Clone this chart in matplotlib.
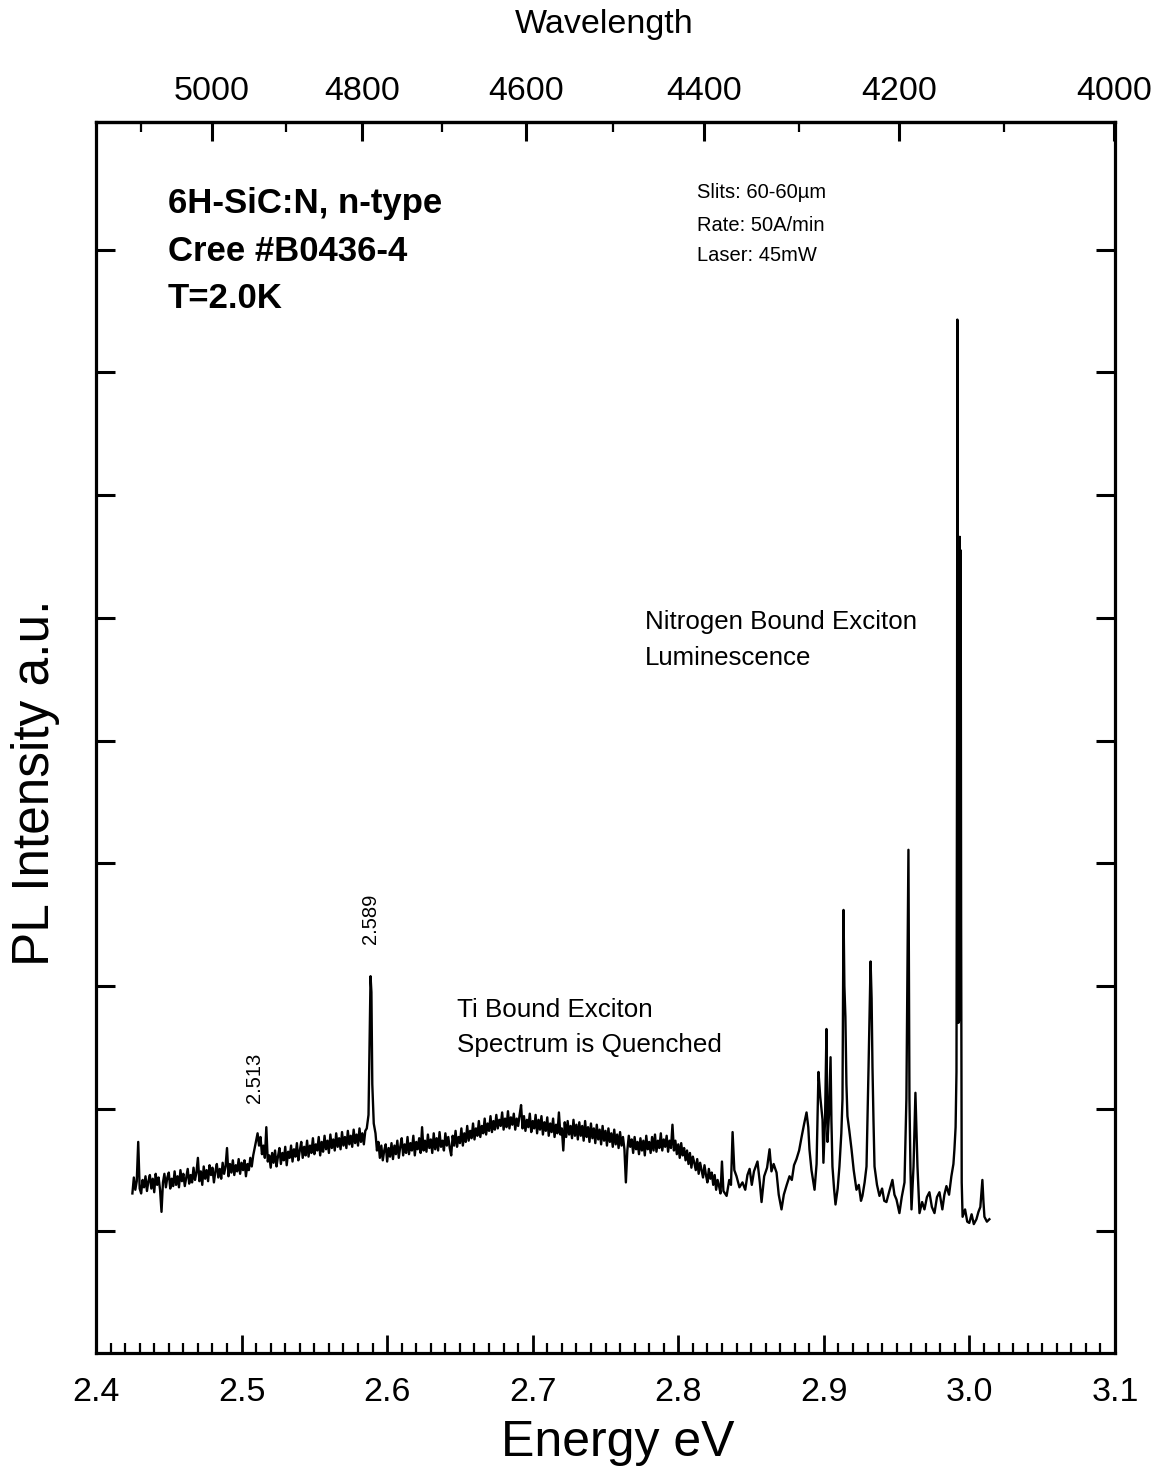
import matplotlib
matplotlib.use("Agg")
import matplotlib.pyplot as plt
from matplotlib.ticker import FixedLocator, NullFormatter

# PL spectrum: photon energy (eV) and intensity (a.u., 1 unit = 1 left tick)
# low-energy noisy background with the 2.513 feature
e_low = [
    2.425, 2.426, 2.427, 2.428, 2.429, 2.430, 2.431, 2.432, 2.433, 2.434,
    2.435, 2.436, 2.437, 2.438, 2.439, 2.440, 2.441, 2.442, 2.443, 2.444,
    2.445, 2.446, 2.447, 2.448, 2.449, 2.450, 2.451, 2.452, 2.453, 2.454,
    2.455, 2.456, 2.457, 2.458, 2.459, 2.460, 2.461, 2.462, 2.463, 2.464,
    2.465, 2.466, 2.467, 2.468, 2.469, 2.470, 2.471, 2.472, 2.473, 2.474,
    2.475, 2.476, 2.477, 2.478, 2.479, 2.480, 2.481, 2.482, 2.483, 2.484,
    2.485, 2.486, 2.487, 2.488, 2.489, 2.490, 2.491, 2.492, 2.493, 2.494,
    2.495, 2.496, 2.497, 2.498, 2.499, 2.500, 2.501, 2.502, 2.503, 2.504,
    2.505, 2.506, 2.507, 2.508, 2.509, 2.510, 2.511, 2.512, 2.513, 2.514,
    2.515, 2.516, 2.517, 2.518, 2.519, 2.520, 2.521, 2.522, 2.523, 2.524,
    2.525, 2.526, 2.527, 2.528, 2.529, 2.530, 2.531, 2.532, 2.533, 2.534,
    2.535, 2.536, 2.537, 2.538, 2.539, 2.540, 2.541, 2.542, 2.543, 2.544,
    2.545, 2.546, 2.547, 2.548, 2.549, 2.550, 2.551, 2.552, 2.553, 2.554,
    2.555, 2.556, 2.557, 2.558, 2.559, 2.560, 2.561, 2.562, 2.563, 2.564,
    2.565, 2.566, 2.567, 2.568, 2.569, 2.570, 2.571, 2.572, 2.573, 2.574,
    2.575, 2.576, 2.577, 2.578, 2.579, 2.580, 2.581, 2.582, 2.583, 2.584,
    2.585,
]
i_low = [
    0.31, 0.44, 0.34, 0.41, 0.73, 0.35, 0.31, 0.42, 0.36, 0.45,
    0.33, 0.41, 0.46, 0.35, 0.43, 0.32, 0.47, 0.38, 0.44, 0.34,
    0.16, 0.40, 0.47, 0.36, 0.44, 0.48, 0.35, 0.43, 0.37, 0.49,
    0.38, 0.45, 0.36, 0.50, 0.41, 0.47, 0.37, 0.44, 0.51, 0.39,
    0.46, 0.40, 0.52, 0.42, 0.48, 0.60, 0.41, 0.49, 0.38, 0.53,
    0.43, 0.50, 0.41, 0.54, 0.46, 0.52, 0.40, 0.49, 0.55, 0.44,
    0.51, 0.43, 0.56, 0.47, 0.53, 0.68, 0.45, 0.55, 0.48, 0.58,
    0.46, 0.54, 0.49, 0.59, 0.47, 0.56, 0.50, 0.58, 0.45, 0.55,
    0.50, 0.60, 0.53, 0.62, 0.68, 0.74, 0.80, 0.70, 0.77, 0.63,
    0.70, 0.60, 0.85, 0.57, 0.62, 0.52, 0.64, 0.56, 0.66, 0.53,
    0.61, 0.68, 0.55, 0.64, 0.58, 0.69, 0.54, 0.65, 0.60, 0.70,
    0.57, 0.67, 0.61, 0.72, 0.58, 0.66, 0.73, 0.60, 0.69, 0.62,
    0.74, 0.61, 0.70, 0.64, 0.76, 0.63, 0.71, 0.66, 0.77, 0.62,
    0.73, 0.65, 0.78, 0.67, 0.74, 0.64, 0.79, 0.68, 0.75, 0.66,
    0.80, 0.69, 0.76, 0.67, 0.81, 0.70, 0.77, 0.68, 0.82, 0.71,
    0.78, 0.69, 0.83, 0.72, 0.79, 0.70, 0.84, 0.73, 0.80, 0.71,
    0.82,
]

# 2.589 eV line
e_589 = [2.5860, 2.5872, 2.5880, 2.5886, 2.5892, 2.5898, 2.5908, 2.5920]
i_589 = [0.84, 0.95, 1.60, 2.08, 1.95, 1.20, 0.88, 0.80]

# broad hump where the Ti lines would be
e_mid = [
    2.593, 2.594, 2.595, 2.596, 2.597, 2.598, 2.599, 2.600, 2.601, 2.602,
    2.603, 2.604, 2.605, 2.606, 2.607, 2.608, 2.609, 2.610, 2.611, 2.612,
    2.613, 2.614, 2.615, 2.616, 2.617, 2.618, 2.619, 2.620, 2.621, 2.622,
    2.623, 2.624, 2.625, 2.626, 2.627, 2.628, 2.629, 2.630, 2.631, 2.632,
    2.633, 2.634, 2.635, 2.636, 2.637, 2.638, 2.639, 2.640, 2.641, 2.642,
    2.643, 2.644, 2.645, 2.646, 2.647, 2.648, 2.649, 2.650, 2.651, 2.652,
    2.653, 2.654, 2.655, 2.656, 2.657, 2.658, 2.659, 2.660, 2.661, 2.662,
    2.663, 2.664, 2.665, 2.666, 2.667, 2.668, 2.669, 2.670, 2.671, 2.672,
    2.673, 2.674, 2.675, 2.676, 2.677, 2.678, 2.679, 2.680, 2.681, 2.682,
    2.683, 2.684, 2.685, 2.686, 2.687, 2.688, 2.689, 2.690, 2.691, 2.692,
    2.693, 2.694, 2.695, 2.696, 2.697, 2.698, 2.699, 2.700, 2.701, 2.702,
    2.703, 2.704, 2.705, 2.706, 2.707, 2.708, 2.709, 2.710, 2.711, 2.712,
    2.713, 2.714, 2.715, 2.716, 2.717, 2.718, 2.719, 2.720, 2.721, 2.722,
    2.723, 2.724, 2.725, 2.726, 2.727, 2.728, 2.729, 2.730, 2.731, 2.732,
    2.733, 2.734, 2.735, 2.736, 2.737, 2.738, 2.739, 2.740, 2.741, 2.742,
    2.743, 2.744, 2.745, 2.746, 2.747, 2.748, 2.749, 2.750, 2.751, 2.752,
    2.753, 2.754, 2.755, 2.756, 2.757, 2.758, 2.759, 2.760, 2.761, 2.762,
    2.763, 2.764, 2.765, 2.766, 2.767, 2.768, 2.769, 2.770, 2.771, 2.772,
    2.773, 2.774, 2.775, 2.776, 2.777, 2.778, 2.779, 2.780, 2.781, 2.782,
    2.783, 2.784, 2.785, 2.786, 2.787, 2.788, 2.789, 2.790, 2.791, 2.792,
    2.793, 2.794, 2.795, 2.796, 2.797, 2.798, 2.799, 2.800, 2.801, 2.802,
    2.803, 2.804, 2.805, 2.806, 2.807, 2.808, 2.809, 2.810, 2.811, 2.812,
    2.813, 2.814, 2.815, 2.816, 2.817, 2.818, 2.819, 2.820, 2.821, 2.822,
    2.823, 2.824, 2.825, 2.826, 2.827, 2.828, 2.829, 2.830, 2.831,
]
i_mid = [
    0.66, 0.73, 0.60, 0.70, 0.58, 0.66, 0.71, 0.57, 0.68, 0.61,
    0.72, 0.59, 0.70, 0.63, 0.74, 0.60, 0.69, 0.76, 0.62, 0.71,
    0.64, 0.77, 0.63, 0.72, 0.66, 0.78, 0.62, 0.73, 0.67, 0.76,
    0.64, 0.85, 0.66, 0.74, 0.65, 0.79, 0.68, 0.75, 0.64, 0.80,
    0.67, 0.76, 0.66, 0.81, 0.69, 0.74, 0.66, 0.80, 0.70, 0.77,
    0.68, 0.62, 0.78, 0.70, 0.82, 0.69, 0.77, 0.72, 0.84, 0.70,
    0.80, 0.73, 0.86, 0.74, 0.82, 0.76, 0.88, 0.75, 0.84, 0.78,
    0.90, 0.77, 0.86, 0.80, 0.92, 0.79, 0.88, 0.82, 0.94, 0.81,
    0.90, 0.83, 0.95, 0.84, 0.91, 0.86, 0.97, 0.83, 0.92, 0.85,
    0.98, 0.84, 0.93, 0.87, 0.96, 0.83, 0.92, 0.86, 0.95, 1.03,
    0.84, 0.94, 0.82, 0.91, 0.85, 0.96, 0.81, 0.90, 0.84, 0.95,
    0.80, 0.91, 0.83, 0.94, 0.79, 0.89, 0.82, 0.93, 0.78, 0.88,
    0.81, 0.92, 0.77, 0.87, 0.80, 0.97, 0.79, 0.84, 0.66, 0.89,
    0.77, 0.90, 0.79, 0.86, 0.76, 0.91, 0.78, 0.87, 0.75, 0.89,
    0.78, 0.86, 0.74, 0.90, 0.77, 0.85, 0.73, 0.88, 0.76, 0.84,
    0.72, 0.87, 0.75, 0.83, 0.71, 0.86, 0.74, 0.82, 0.70, 0.84,
    0.73, 0.80, 0.69, 0.83, 0.71, 0.79, 0.68, 0.81, 0.70, 0.77,
    0.67, 0.40, 0.66, 0.78, 0.69, 0.75, 0.64, 0.77, 0.67, 0.73,
    0.63, 0.76, 0.66, 0.74, 0.62, 0.78, 0.67, 0.73, 0.64, 0.77,
    0.66, 0.79, 0.65, 0.74, 0.68, 0.80, 0.66, 0.75, 0.69, 0.78,
    0.65, 0.74, 0.68, 0.87, 0.66, 0.74, 0.63, 0.71, 0.60, 0.72,
    0.62, 0.68, 0.58, 0.66, 0.55, 0.64, 0.52, 0.61, 0.56, 0.50,
    0.59, 0.47, 0.56, 0.50, 0.44, 0.54, 0.46, 0.40, 0.51, 0.43,
    0.48, 0.38, 0.46, 0.34, 0.42, 0.37, 0.31, 0.57, 0.33,
]

# nitrogen bound exciton lines and phonon replicas
e_nbx = [
    2.8332, 2.8350, 2.8362, 2.8373, 2.8385, 2.8400, 2.8420, 2.8441, 2.8460, 2.8475,
    2.8490, 2.8505, 2.8520, 2.8544, 2.8560, 2.8572, 2.8590, 2.8610, 2.8627, 2.8640,
    2.8655, 2.8675, 2.8690, 2.8709, 2.8725, 2.8745, 2.8764, 2.8780, 2.8795, 2.8812,
    2.8830, 2.8847, 2.8865, 2.8881, 2.8893, 2.8901, 2.8915, 2.8936, 2.8950, 2.8963,
    2.8975, 2.8991, 2.8997, 2.9008, 2.9018, 2.9025, 2.9035, 2.9046, 2.9052, 2.9059,
    2.9070, 2.9080, 2.9095, 2.9107, 2.9120, 2.9128, 2.9135, 2.9141, 2.9148, 2.9155,
    2.9162, 2.9175, 2.9190, 2.9205, 2.9224, 2.9240, 2.9255, 2.9265, 2.9280, 2.9293,
    2.9307, 2.9321, 2.9328, 2.9334, 2.9341, 2.9348, 2.9365, 2.9382, 2.9400, 2.9415,
    2.9430, 2.9450, 2.9471, 2.9485, 2.9499, 2.9510, 2.9519, 2.9535, 2.9554, 2.9567,
    2.9581, 2.9588, 2.9595, 2.9602, 2.9616, 2.9629, 2.9643, 2.9657, 2.9675, 2.9691,
    2.9708, 2.9725, 2.9742, 2.9760, 2.9777, 2.9794, 2.9814, 2.9828, 2.9842, 2.9860,
    2.9876, 2.9890, 2.9897, 2.9905,
]
i_nbx = [
    0.29, 0.42, 0.38, 0.81, 0.50, 0.45, 0.36, 0.40, 0.34, 0.46,
    0.51, 0.38, 0.49, 0.57, 0.40, 0.24, 0.45, 0.52, 0.67, 0.49,
    0.55, 0.48, 0.30, 0.18, 0.30, 0.38, 0.45, 0.42, 0.54, 0.59,
    0.66, 0.77, 0.88, 0.97, 0.85, 0.67, 0.50, 0.34, 0.55, 1.30,
    1.10, 0.91, 0.56, 0.90, 1.65, 0.73, 0.95, 1.42, 0.90, 0.53,
    0.35, 0.22, 0.35, 0.53, 0.80, 1.08, 2.62, 2.00, 1.75, 1.20,
    0.94, 0.82, 0.67, 0.50, 0.34, 0.38, 0.25, 0.29, 0.40, 0.53,
    1.34, 2.20, 1.90, 1.34, 0.90, 0.53, 0.38, 0.29, 0.35, 0.25,
    0.24, 0.33, 0.42, 0.30, 0.26, 0.20, 0.15, 0.28, 0.40, 1.08,
    3.11, 1.08, 0.50, 0.18, 0.53, 1.13, 0.53, 0.15, 0.24, 0.18,
    0.28, 0.32, 0.20, 0.15, 0.28, 0.32, 0.18, 0.30, 0.37, 0.30,
    0.45, 0.55, 0.67, 0.85,
]

# strongest line near 2.992 eV and the tail
e_top = [
    2.9911, 2.9915, 2.9917, 2.9919, 2.9922, 2.9925, 2.9928, 2.9931, 2.9934, 2.9937,
    2.9940, 2.9943, 2.9947, 2.9953, 2.9970, 2.9985, 2.9999, 3.0015, 3.0030, 3.0048,
    3.0062, 3.0075, 3.0089, 3.0096, 3.0103, 3.0120, 3.0137,
]
i_top = [
    1.30, 4.00, 7.43, 1.72, 5.60, 1.70, 5.62, 1.72, 5.66, 1.75,
    5.55, 2.50, 0.40, 0.12, 0.18, 0.08, 0.07, 0.14, 0.06, 0.10,
    0.16, 0.20, 0.42, 0.25, 0.12, 0.08, 0.10,
]

energy_ticks = [2.4, 2.5, 2.6, 2.7, 2.8, 2.9, 3.0, 3.1]
energy_minor = [round(2.4 + 0.01 * i, 2) for i in range(71)]
wavelength_ticks = [4000, 4200, 4400, 4600, 4800, 5000]
wavelength_minor = [4100, 4300, 4500, 4700, 4900, 5100]
intensity_ticks = [0, 1, 2, 3, 4, 5, 6, 7, 8]

peak_labels = ["2.513", "2.589"]
peak_label_x = [2.5091, 2.5888]
peak_label_y = [1.25, 2.55]

energy = e_low + e_589 + e_mid + e_nbx + e_top
intensity = i_low + i_589 + i_mid + i_nbx + i_top

plt.rcParams["font.family"] = ["Liberation Sans", "DejaVu Sans"]

fig = plt.figure(figsize=(11.59, 14.74), dpi=100)
W, H = 1159, 1474
ax = fig.add_axes([96 / W, (H - 1353) / H, 1019 / W, 1231 / H])

ax.plot(energy, intensity, color="black", lw=1.7)
ax.set_xlim(2.4, 3.1)
ax.set_ylim(-0.99, 9.04)

for s in ax.spines.values():
    s.set_linewidth(2.3)

ax.xaxis.set_major_locator(FixedLocator(energy_ticks))
ax.xaxis.set_minor_locator(FixedLocator(energy_minor))
ax.set_xticklabels(["%.1f" % e for e in energy_ticks])
ax.yaxis.set_major_locator(FixedLocator(intensity_ticks))
ax.yaxis.set_major_formatter(NullFormatter())
ax.tick_params(axis="x", which="major", direction="in", length=13, width=2, labelsize=24.5, pad=17)
ax.tick_params(axis="x", which="minor", direction="in", length=7, width=1.6)
ax.tick_params(axis="y", which="major", direction="in", length=14, width=2.2, left=True, right=True)

top = ax.secondary_xaxis("top", functions=(lambda e: 12398.0 / e, lambda w: 12398.0 / w))
top.xaxis.set_major_locator(FixedLocator(wavelength_ticks))
top.xaxis.set_minor_locator(FixedLocator(wavelength_minor))
top.set_xticklabels([str(w) for w in wavelength_ticks])
top.tick_params(axis="x", which="major", direction="in", length=14, width=2.2, labelsize=24.5, pad=11)
top.tick_params(axis="x", which="minor", direction="in", length=7, width=1.6)
top.spines["top"].set_linewidth(2.3)

fig.text(604 / W, 1 - 25 / H, "Wavelength", ha="center", va="center", fontsize=24.5)
fig.text(618 / W, 1 - 1443 / H, "Energy eV", ha="center", va="center", fontsize=36)
fig.text(36 / W, 1 - 783 / H, "PL Intensity a.u.", ha="center", va="center", rotation=90, fontsize=37)

for t, yy in zip(["6H-SiC:N, n-type", "Cree #B0436-4", "T=2.0K"], [0.9261, 0.8871, 0.8489]):
    ax.text(0.0707, yy, t, transform=ax.transAxes, fontsize=25, fontweight="bold", va="baseline")

for t, yy in zip(["Slits: 60-60\u00b5m", "Rate: 50A/min", "Laser: 45mW"], [0.9383, 0.9115, 0.8871]):
    ax.text(0.5898, yy, t, transform=ax.transAxes, fontsize=14.5, va="baseline")

ax.text(0.5388, 0.5881, "Nitrogen Bound Exciton", transform=ax.transAxes, fontsize=18.6, va="baseline")
ax.text(0.5388, 0.5589, "Luminescence", transform=ax.transAxes, fontsize=18.6, va="baseline")
ax.text(0.3543, 0.2729, "Ti Bound Exciton", transform=ax.transAxes, fontsize=18.7, va="baseline")
ax.text(0.3543, 0.2445, "Spectrum is Quenched", transform=ax.transAxes, fontsize=18.7, va="baseline")

for lab, px, py in zip(peak_labels, peak_label_x, peak_label_y):
    ax.text(px, py, lab, rotation=90, ha="center", va="center", fontsize=14.5)

fig.savefig("out.png", dpi=100)
